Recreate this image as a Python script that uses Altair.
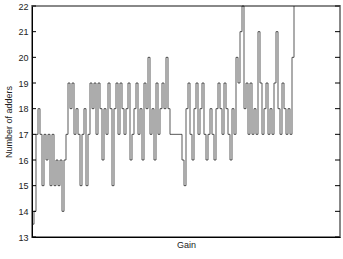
import altair as alt
import pandas as pd

# Number of adders read along the Gain axis (one reading every ~2 px)
adders = [13.5, 14, 17, 18, 17, 15, 17, 16, 17, 15, 17, 15, 16, 15, 16, 14, 16, 17, 19, 18,
          19, 17, 18, 17, 15, 17, 18, 15, 17, 19, 18, 19, 17, 19, 18, 16, 18, 17, 19, 18,
          15, 18, 19, 17, 19, 18, 17, 18, 19, 16, 17, 18, 19, 17, 18, 16, 19, 18, 20, 17,
          18, 16, 19, 17, 18, 19, 18, 20, 18, 17, 17, 17, 17, 17, 17, 16, 15, 18, 19, 17,
          16, 18, 19, 17, 18, 19, 17, 16, 17, 18, 17, 16, 18, 19, 18, 17, 19, 18, 17, 16,
          18, 17, 20, 19, 21, 22, 18, 19, 17, 19, 17, 18, 17, 21, 19, 17, 18, 19, 17, 18,
          17, 19, 21, 18, 17, 19, 18, 17, 18, 17, 20, 22]
gain = list(range(len(adders)))
y_ticks = [13, 14, 15, 16, 17, 18, 19, 20, 21, 22]

df = pd.DataFrame({"gain": gain, "adders": adders})
ticks = pd.DataFrame({"t": y_ticks})

W, H = 308, 231
FONT = "Liberation Sans"

xscale = alt.Scale(domain=[0, 154], nice=False, zero=False)
yscale = alt.Scale(domain=[13, 22], nice=False, zero=False)

yaxis = alt.Axis(title="Number of adders", values=y_ticks, ticks=False, grid=False,
                 labelOverlap=False,
                 domainColor="#000000", domainWidth=1,
                 labelFont=FONT, labelFontSize=9, labelColor="#222222",
                 labelPadding=4,
                 titleFont=FONT, titleFontSize=9, titleFontWeight="normal",
                 titleColor="#222222", titlePadding=4)

line = alt.Chart(df).mark_line(color="#111111", strokeWidth=0.7, interpolate="step-after").encode(
    x=alt.X("gain:Q", scale=xscale,
            axis=alt.Axis(title="Gain", labels=False, ticks=False, grid=False,
                          domainColor="#000000", domainWidth=1,
                          titleFont=FONT, titleFontSize=9, titleFontWeight="normal",
                          titleColor="#222222", titlePadding=3)),
    y=alt.Y("adders:Q", scale=yscale, axis=yaxis),
)

left_ticks = alt.Chart(ticks).mark_rule(color="#000000", strokeWidth=1).encode(
    y=alt.Y("t:Q", scale=yscale, axis=yaxis), x=alt.value(0), x2=alt.value(4)
)
right_ticks = alt.Chart(ticks).mark_rule(color="#000000", strokeWidth=1).encode(
    y=alt.Y("t:Q", scale=yscale, axis=yaxis), x=alt.value(W - 5), x2=alt.value(W)
)

chart = alt.layer(line, left_ticks, right_ticks).properties(
    width=W, height=H,
    autosize=alt.AutoSizeParams(type="none"),
    padding={"left": 32, "top": 6, "right": 3, "bottom": 22},
    background="white",
).configure_view(stroke="#888888", strokeWidth=2)

chart.save("out.html", embed_options={"renderer": "svg", "actions": False})
